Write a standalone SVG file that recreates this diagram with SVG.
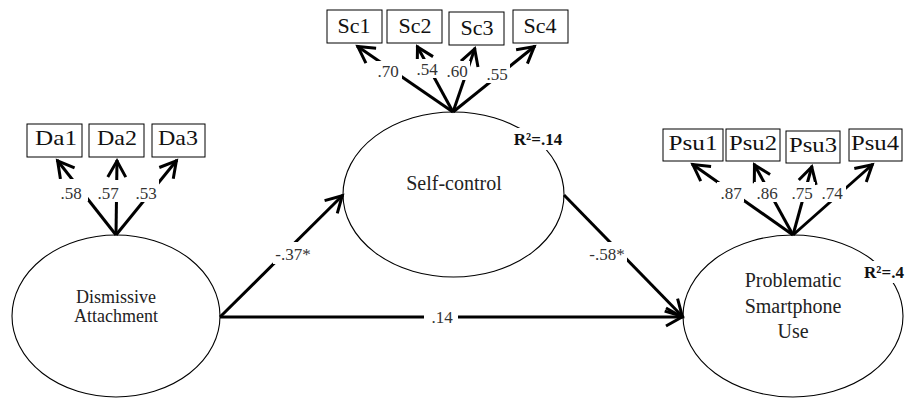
<svg xmlns="http://www.w3.org/2000/svg" width="911" height="398" viewBox="0 0 911 398" font-family="'Liberation Serif', serif">
<style>
.bg{fill:#fff}
.box{fill:#fff;stroke:#000;stroke-width:1}
.ell{fill:#fff;stroke:#000;stroke-width:1.1}
text{font-family:'Liberation Serif',serif}
.bt{font-size:22px;fill:#111;text-anchor:middle}
.et{font-size:20px;fill:#222;text-anchor:middle}
.lt{font-size:17px;fill:#333;text-anchor:middle}
.r2{font-size:17px;font-weight:bold;fill:#111;text-anchor:middle}
.ln{stroke:#000;stroke-width:3;fill:none;marker-end:url(#ah)}
.lb{fill:#fff}
</style>
<defs>
<marker id="ah" markerUnits="userSpaceOnUse" viewBox="-30 -20 40 40" markerWidth="40" markerHeight="40" refX="0" refY="0" orient="auto" overflow="visible">
<path d="M-17,-9 L-1,0 L-17,9" fill="none" stroke="#000" stroke-width="3"/>
</marker>
</defs>
<rect class="bg" x="0" y="0" width="911" height="398"/>

<g id="da">
<ellipse class="ell" cx="116" cy="316" rx="104" ry="81"/>
<text class="et" style="font-size:18px" x="116" y="303">Dismissive</text>
<text class="et" style="font-size:18px" x="116" y="322">Attachment</text>
</g>
<g id="sc">
<ellipse class="ell" cx="453.5" cy="194.5" rx="110.5" ry="82.5"/>
<text class="et" x="454" y="190">Self-control</text>
</g>
<g id="psu">
<ellipse class="ell" cx="793" cy="316" rx="110" ry="81"/>
<text class="et" x="793" y="287">Problematic</text>
<text class="et" x="793" y="313">Smartphone</text>
<text class="et" x="793" y="338">Use</text>
</g>

<g id="da1"><rect class="box" x="27" y="124" width="55" height="33"/><text class="bt" x="56" y="145" textLength="42" lengthAdjust="spacingAndGlyphs">Da1</text></g>
<g id="da2"><rect class="box" x="89" y="124" width="55" height="33"/><text class="bt" x="117" y="145" textLength="40" lengthAdjust="spacingAndGlyphs">Da2</text></g>
<g id="da3"><rect class="box" x="152" y="124" width="53" height="33"/><text class="bt" x="178" y="145" textLength="40" lengthAdjust="spacingAndGlyphs">Da3</text></g>

<g id="sc1"><rect class="box" x="327" y="10" width="55" height="33"/><text class="bt" x="354" y="33">Sc1</text></g>
<g id="sc2"><rect class="box" x="387" y="10" width="55" height="33"/><text class="bt" x="415" y="33">Sc2</text></g>
<g id="sc3"><rect class="box" x="449" y="12" width="55" height="33"/><text class="bt" x="477" y="35">Sc3</text></g>
<g id="sc4"><rect class="box" x="513" y="10" width="55" height="33"/><text class="bt" x="540" y="33">Sc4</text></g>

<g id="psu1"><rect class="box" x="663" y="129" width="60" height="32"/><text class="bt" x="693" y="150" textLength="49" lengthAdjust="spacingAndGlyphs">Psu1</text></g>
<g id="psu2"><rect class="box" x="726" y="129" width="54" height="32"/><text class="bt" x="753" y="150" textLength="48" lengthAdjust="spacingAndGlyphs">Psu2</text></g>
<g id="psu3"><rect class="box" x="786" y="131" width="54" height="32"/><text class="bt" x="813" y="152" textLength="48" lengthAdjust="spacingAndGlyphs">Psu3</text></g>
<g id="psu4"><rect class="box" x="849" y="129" width="53" height="32"/><text class="bt" x="875" y="150" textLength="48" lengthAdjust="spacingAndGlyphs">Psu4</text></g>

<g id="connectors">
<line class="ln" x1="116" y1="235" x2="57" y2="160"/>
<line class="ln" x1="116" y1="235" x2="117" y2="160"/>
<line class="ln" x1="116" y1="235" x2="177" y2="160"/>

<line class="ln" x1="453" y1="112" x2="357" y2="46"/>
<line class="ln" x1="453" y1="112" x2="417" y2="46"/>
<line class="ln" x1="453" y1="112" x2="475" y2="48"/>
<line class="ln" x1="453" y1="112" x2="535" y2="46"/>

<line class="ln" x1="793" y1="235" x2="692" y2="164"/>
<line class="ln" x1="793" y1="235" x2="754" y2="164"/>
<line class="ln" x1="793" y1="235" x2="812" y2="166"/>
<line class="ln" x1="793" y1="235" x2="873" y2="164"/>

<line class="ln" x1="220" y1="317" x2="343" y2="195"/>
<line class="ln" x1="564" y1="195" x2="683" y2="317"/>
<line class="ln" x1="220" y1="317" x2="683" y2="317"/>

<rect class="lb" x="57" y="179" width="31" height="22"/>
<rect class="lb" x="96" y="180" width="25" height="22"/>
<rect class="lb" x="133" y="180" width="26" height="22"/>
<text class="lt" x="71" y="199">.58</text>
<text class="lt" x="108" y="199">.57</text>
<text class="lt" x="146" y="199">.53</text>

<rect class="lb" x="374" y="61" width="28" height="19"/>
<rect class="lb" x="413" y="59" width="27" height="19"/>
<rect class="lb" x="444" y="61" width="26" height="19"/>
<rect class="lb" x="484" y="64" width="26" height="19"/>
<text class="lt" x="388" y="77">.70</text>
<text class="lt" x="427" y="75">.54</text>
<text class="lt" x="457" y="77">.60</text>
<text class="lt" x="497" y="80">.55</text>

<rect class="lb" x="717" y="182" width="27" height="20"/>
<rect class="lb" x="754" y="182" width="27" height="20"/>
<rect class="lb" x="789" y="182" width="26" height="20"/>
<rect class="lb" x="819" y="182" width="27" height="20"/>
<text class="lt" x="731" y="199">.87</text>
<text class="lt" x="767" y="199">.86</text>
<text class="lt" x="802" y="199">.75</text>
<text class="lt" x="832" y="199">.74</text>

<rect class="lb" x="273" y="242" width="40" height="22"/>
<rect class="lb" x="586" y="242" width="41" height="22"/>
<rect class="lb" x="424" y="307" width="34" height="20"/>
<text class="lt" x="293" y="260">-.37*</text>
<text class="lt" x="607" y="260">-.58*</text>
<text class="lt" x="442" y="323">.14</text>
</g>

<g id="r2labels">
<rect class="lb" x="509" y="128" width="57" height="22"/>
<text class="r2" x="538" y="145">R²=.14</text>
<rect class="lb" x="860" y="261" width="48" height="22"/>
<text class="r2" x="884" y="278">R²=.4</text>
</g>
</svg>
